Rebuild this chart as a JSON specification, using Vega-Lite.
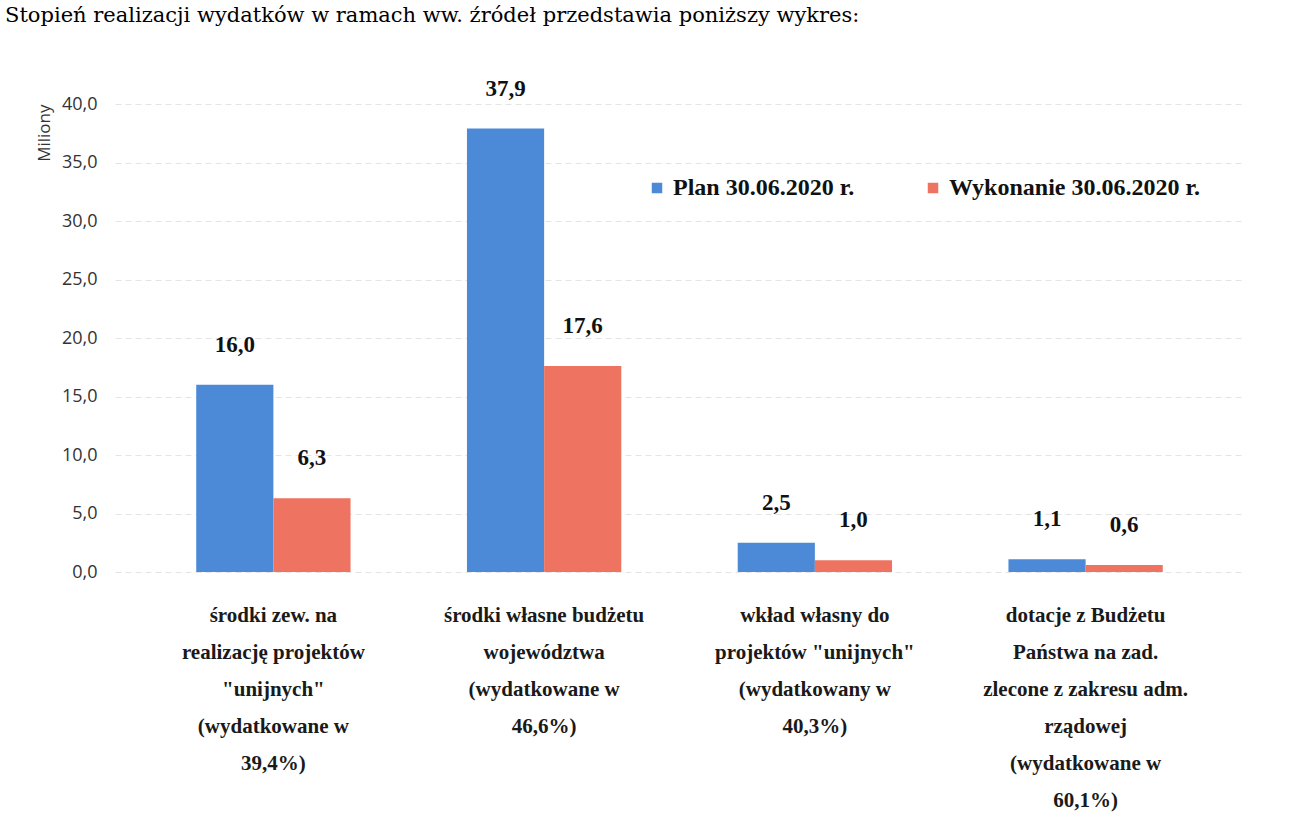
{
  "$schema": "https://vega.github.io/schema/vega-lite/v6.json",
  "width": 1129,
  "height": 468,
  "padding": {"left": 5, "top": 4, "right": 20, "bottom": 5},
  "background": "white",
  "title": {
    "text": "Stopień realizacji wydatków w ramach ww. źródeł przedstawia poniższy wykres:",
    "anchor": "start",
    "frame": "group",
    "font": "DejaVu Serif",
    "fontSize": 21,
    "fontWeight": "normal",
    "color": "#000000",
    "offset": 52,
    "dx": -110
  },
  "config": {
    "locale": {"number": {"decimal": ",", "thousands": " ", "grouping": [3], "currency": ["", " zł"]}},
    "view": {"stroke": null}
  },
  "data": {
    "values": [
      {"kategoria": "środki zew. na|realizację projektów|\"unijnych\"|(wydatkowane w|39,4%)", "seria": "Plan 30.06.2020 r.", "wartosc": 16.0},
      {"kategoria": "środki zew. na|realizację projektów|\"unijnych\"|(wydatkowane w|39,4%)", "seria": "Wykonanie 30.06.2020 r.", "wartosc": 6.3},
      {"kategoria": "środki własne budżetu|województwa|(wydatkowane w|46,6%)", "seria": "Plan 30.06.2020 r.", "wartosc": 37.9},
      {"kategoria": "środki własne budżetu|województwa|(wydatkowane w|46,6%)", "seria": "Wykonanie 30.06.2020 r.", "wartosc": 17.6},
      {"kategoria": "wkład własny do|projektów \"unijnych\"|(wydatkowany w|40,3%)", "seria": "Plan 30.06.2020 r.", "wartosc": 2.5},
      {"kategoria": "wkład własny do|projektów \"unijnych\"|(wydatkowany w|40,3%)", "seria": "Wykonanie 30.06.2020 r.", "wartosc": 1.0},
      {"kategoria": "dotacje z Budżetu|Państwa na zad.|zlecone z zakresu adm.|rządowej|(wydatkowane w|60,1%)", "seria": "Plan 30.06.2020 r.", "wartosc": 1.1},
      {"kategoria": "dotacje z Budżetu|Państwa na zad.|zlecone z zakresu adm.|rządowej|(wydatkowane w|60,1%)", "seria": "Wykonanie 30.06.2020 r.", "wartosc": 0.6}
    ]
  },
  "encoding": {
    "x": {
      "field": "kategoria",
      "type": "nominal",
      "sort": null,
      "scale": {"paddingInner": 0.43, "paddingOuter": 0.3},
      "axis": {
        "title": null,
        "labelAngle": 0,
        "labelExpr": "split(datum.label, '|')",
        "labelFont": "Liberation Serif",
        "labelFontWeight": "bold",
        "labelFontSize": 21,
        "labelLineHeight": 37,
        "labelLimit": 500,
        "labelColor": "#1a1a1a",
        "labelPadding": 32,
        "labelBaseline": "top",
        "domain": false,
        "ticks": false
      }
    },
    "xOffset": {"field": "seria", "type": "nominal", "sort": null},
    "y": {
      "field": "wartosc",
      "type": "quantitative",
      "scale": {"domain": [0, 40]},
      "axis": {
        "title": "Miliony",
        "titleFont": "Open Sans",
        "titleFontSize": 17,
        "titleFontWeight": "normal",
        "titleColor": "#333333",
        "titleAnchor": "end",
        "titlePadding": 8,
        "format": ".1f",
        "values": [0, 5, 10, 15, 20, 25, 30, 35, 40],
        "labelOverlap": false,
        "labelFont": "Open Sans",
        "labelFontSize": 18,
        "labelColor": "#333333",
        "labelPadding": 18,
        "domain": false,
        "ticks": false,
        "grid": true,
        "gridColor": "#e4e4e4",
        "gridDash": [6, 4],
        "gridWidth": 1
      }
    }
  },
  "layer": [
    {
      "mark": {"type": "bar"},
      "encoding": {
        "color": {
          "field": "seria",
          "type": "nominal",
          "sort": null,
          "scale": {"range": ["#4c8ad8", "#ee7461"]},
          "legend": {
            "title": null,
            "orient": "none",
            "direction": "horizontal",
            "legendX": 530,
            "legendY": 72,
            "symbolType": "square",
            "symbolSize": 110,
            "labelFont": "Liberation Serif",
            "labelFontSize": 24,
            "labelFontWeight": "bold",
            "labelLimit": 400,
            "labelColor": "#111111",
            "columnPadding": 66,
            "labelOffset": 4
          }
        }
      }
    },
    {
      "mark": {"type": "text", "dy": -28, "font": "Liberation Serif", "fontSize": 23, "fontWeight": "bold", "color": "#111111", "baseline": "bottom"},
      "encoding": {
        "text": {"field": "wartosc", "type": "quantitative", "format": ".1f"}
      }
    }
  ]
}
